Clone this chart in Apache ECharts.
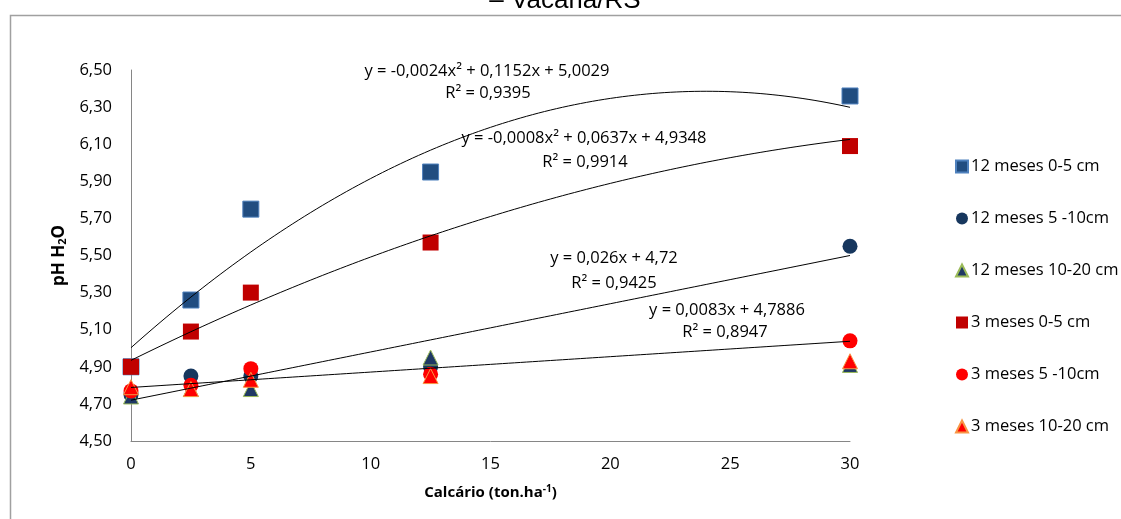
<!DOCTYPE html>
<html>
<head>
<meta charset="utf-8">
<script src="https://cdn.jsdelivr.net/npm/echarts@6/dist/echarts.min.js"></script>
<style>
  html, body { margin: 0; padding: 0; background: #fff; }
  #chart { width: 1121px; height: 519px; }
</style>
</head>
<body>
<div id="chart"></div>
<script>
// Lime doses (ton/ha)
const doses = [0, 2.5, 5, 12.5, 30];

// pH in water per sampling time and depth
const ph12m_0_5 = [4.90, 5.26, 5.75, 5.95, 6.36];
const ph12m_5_10 = [4.75, 4.85, 4.85, 4.90, 5.55];
const ph12m_10_20 = [4.74, 4.78, 4.78, 4.95, 4.91];
const ph3m_0_5 = [4.90, 5.09, 5.30, 5.57, 6.09];
const ph3m_5_10 = [4.77, 4.80, 4.89, 4.86, 5.04];
const ph3m_10_20 = [4.79, 4.78, 4.83, 4.85, 4.93];

const seriesNames = ['12 meses 0-5 cm', '12 meses 5 -10cm', '12 meses 10-20 cm',
                     '3 meses 0-5 cm', '3 meses 5 -10cm', '3 meses 10-20 cm'];

// Fitted trend lines: coefficients [a, b, c] of a*x^2 + b*x + c
const fit12m_0_5 = [-0.0024, 0.1152, 5.0029];
const fit3m_0_5 = [-0.0008, 0.0637, 4.9348];
const fit12m_5_10 = [0, 0.026, 4.72];
const fit3m_5_10 = [0, 0.0083, 4.7886];

const fitLabels = [
  ['y = -0,0024x² + 0,1152x + 5,0029', 'R² = 0,9395'],
  ['y = -0,0008x² + 0,0637x + 4,9348', 'R² = 0,9914'],
  ['y = 0,026x + 4,72', 'R² = 0,9425'],
  ['y = 0,0083x + 4,7886', 'R² = 0,8947']
];

const yTicks = ['4,50', '4,70', '4,90', '5,10', '5,30', '5,50', '5,70', '5,90', '6,10', '6,30', '6,50'];

const FONT = '"Open Sans", Lato, sans-serif';
const FS = 16.5;

function pairs(ys) { return doses.map((x, i) => [x, ys[i]]); }

function curve(c) {
  const pts = [];
  for (let x = 0; x <= 30.0001; x += 0.25) {
    pts.push([x, c[0] * x * x + c[1] * x + c[2]]);
  }
  return pts;
}

function scatter(name, data, symbol, size, fill, border) {
  return {
    name, type: 'scatter', data: pairs(data), symbol, symbolSize: size,
    itemStyle: { color: fill, borderColor: border, borderWidth: border ? 1 : 0, opacity: 1 },
    emphasis: { disabled: true }, z: 2
  };
}

function trend(data) {
  return {
    type: 'line', data: curve(data), showSymbol: false, smooth: false, silent: true,
    lineStyle: { color: '#000', width: 1 }, z: 5, legendHoverLink: false
  };
}

const chart = echarts.init(document.getElementById('chart'), null, { renderer: 'canvas' });

function labelText(x, y, text) {
  return {
    type: 'text', x, y,
    style: { text, font: FS + 'px ' + FONT, fill: '#000', align: 'center', verticalAlign: 'middle' },
    z: 10
  };
}

chart.setOption({
  animation: false,
  backgroundColor: '#fff',
  grid: { left: 131, right: 271, top: 70, bottom: 78 },
  legend: {
    orient: 'vertical', left: 950, top: 153, itemGap: 35, itemWidth: 12, itemHeight: 12,
    data: seriesNames,
    textStyle: { fontFamily: FONT, fontSize: FS, color: '#000', padding: [0, 0, 0, -2] }
  },
  xAxis: {
    type: 'value', min: 0, max: 30, interval: 5,
    name: '{b|Calcário (ton.ha}{sup|-1}{b|)}',
    nameLocation: 'middle', nameGap: 43,
    nameTextStyle: {
      rich: {
        b: { fontFamily: FONT, fontSize: 15, fontWeight: 'bold', color: '#000' },
        sup: { fontFamily: FONT, fontSize: 10, fontWeight: 'bold', color: '#000', verticalAlign: 'top', padding: [0, 0, 8, 0] }
      }
    },
    axisLine: { lineStyle: { color: '#868686', width: 1 } },
    axisTick: { show: false },
    axisLabel: { fontFamily: FONT, fontSize: FS, color: '#000', margin: 15 },
    splitLine: { show: false }
  },
  yAxis: {
    type: 'value', min: 4.5, max: 6.5, interval: 0.2,
    name: '{b|pH H}{sub|2}{b|O}',
    nameLocation: 'middle', nameGap: 58, nameRotate: 90,
    nameTextStyle: {
      rich: {
        b: { fontFamily: FONT, fontSize: 17, fontWeight: 'bold', color: '#000' },
        sub: { fontFamily: FONT, fontSize: 11, fontWeight: 'bold', color: '#000', padding: [8, 0, 0, 0] }
      }
    },
    axisLine: { show: true, lineStyle: { color: '#868686', width: 1 } },
    axisTick: { show: false },
    axisLabel: {
      fontFamily: FONT, fontSize: FS, color: '#000', margin: 19,
      formatter: (v) => yTicks[Math.round((v - 4.5) / 0.2)]
    },
    splitLine: { show: false }
  },
  series: [
    scatter(seriesNames[0], ph12m_0_5, 'rect', 16, '#214D80', '#4F81BD'),
    scatter(seriesNames[1], ph12m_5_10, 'circle', 15, '#17375E', null),
    scatter(seriesNames[2], ph12m_10_20, 'triangle', 15, '#1F3864', '#9BBB59'),
    scatter(seriesNames[3], ph3m_0_5, 'rect', 16, '#C00000', null),
    scatter(seriesNames[4], ph3m_5_10, 'circle', 15, '#FF0000', null),
    scatter(seriesNames[5], ph3m_10_20, 'triangle', 15, '#FF0000', '#F79646'),
    trend(fit12m_0_5),
    trend(fit3m_0_5),
    trend(fit12m_5_10),
    trend(fit3m_5_10)
  ],
  graphic: [
    { type: 'rect', shape: { x: 10.5, y: 15.5, width: 1200, height: 600 },
      style: { fill: null, stroke: '#a0a0a0', lineWidth: 1.5 }, z: -10, silent: true },
    { type: 'text', x: 565, y: 14,
      style: { text: '– Vacaria/RS', font: '26px "Liberation Sans", Arial, sans-serif', fill: '#000', align: 'center', verticalAlign: 'bottom' } },
    labelText(487, 71, fitLabels[0][0]),
    labelText(488, 93, fitLabels[0][1]),
    labelText(584, 138, fitLabels[1][0]),
    labelText(585, 162, fitLabels[1][1]),
    labelText(614, 258, fitLabels[2][0]),
    labelText(614, 283, fitLabels[2][1]),
    labelText(727, 310, fitLabels[3][0]),
    labelText(725, 332, fitLabels[3][1])
  ]
});
</script>
</body>
</html>
